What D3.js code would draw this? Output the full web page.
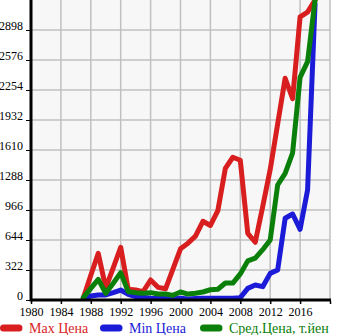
<!DOCTYPE html>
<html><head><meta charset="utf-8">
<script src="https://cdn.jsdelivr.net/npm/d3@7"></script>
<style>
html,body{margin:0;padding:0;background:#fff;}
svg{display:block;font-family:"Liberation Serif","Times New Roman",serif;}
</style></head>
<body><svg id="c" width="345" height="335"></svg>
<script>
const years = d3.range(1987, 2019);
const maxPrice = [20,265,500,130,345,566,115,107,89,215,136,120,335,550,610,685,845,800,960,1413,1532,1500,716,620,1003,1400,1890,2380,2160,3040,3090,3220];
const minPrice = [20,43,54,54,79,107,61,36,29,18,15,15,15,18,10,15,18,18,18,18,18,25,125,161,143,286,322,877,923,759,1181,3180];
const avgPrice = [25,125,222,72,180,293,89,79,72,79,64,64,50,86,64,72,86,110,115,182,182,280,420,450,540,644,1234,1360,1580,2390,2558,3220];
const yTicks = [0,322,644,966,1288,1610,1932,2254,2576,2898];
const xTicks = [1980,1984,1988,1992,1996,2000,2004,2008,2012,2016,2020];
const xLabels = [1980,1984,1988,1992,1996,2000,2004,2008,2012,2016];
const seriesNames = ["Max Цена","Min Цена","Сред.Цена, т.йен"];
const colors = ["#d81e1e","#1b1bd8","#0a800a"];

const svg = d3.select("#c");
const L = 31, R = 330, T = 0, B = 300;
const x = d3.scaleLinear().domain([1980, 2020]).range([L, R]);
const y = d3.scaleLinear().domain([0, 3220]).range([B, T]);

svg.append("rect").attr("x", L).attr("y", T).attr("width", R - L).attr("height", B - T).attr("fill", "#f7f7f7");

// grid
svg.append("g").selectAll("line").data(xTicks.slice(1)).join("line")
  .attr("x1", d => x(d)).attr("x2", d => x(d)).attr("y1", T).attr("y2", B)
  .attr("stroke", "#c0c0c0").attr("stroke-width", 1.5);
svg.append("g").selectAll("line").data(yTicks.slice(1)).join("line")
  .attr("x1", L).attr("x2", R).attr("y1", d => y(d)).attr("y2", d => y(d))
  .attr("stroke", "#c0c0c0").attr("stroke-width", 1.5);

// lines
svg.append("clipPath").attr("id", "pc").append("rect")
  .attr("x", L).attr("y", T).attr("width", R - L).attr("height", B - T);
const line = d3.line().x((d, i) => x(years[i])).y(d => y(d));
const data = [maxPrice, minPrice, avgPrice];
const lg = svg.append("g").attr("clip-path", "url(#pc)");
data.forEach((s, k) => {
  lg.append("path").datum(s).attr("d", line).attr("fill", "none")
    .attr("stroke", colors[k]).attr("stroke-width", 5)
    .attr("stroke-linejoin", "round").attr("stroke-linecap", "round");
});

// axes
const xAxis = svg.append("g").attr("transform", `translate(0,${B})`)
  .call(d3.axisBottom(x).tickValues(xTicks).tickSize(4).tickFormat(d => xLabels.includes(d) ? d : ""));
xAxis.select(".domain").attr("stroke", "#000").attr("stroke-width", 3).attr("d", `M${L},0H${R + 1}`);
xAxis.selectAll(".tick line").attr("stroke", "#000").attr("stroke-width", 1.5).attr("y1", 1);
xAxis.selectAll(".tick text").attr("font-size", 12).attr("font-family", "Liberation Serif, serif").attr("fill", "#000")
  .attr("y", 16).attr("dy", 0);

const yAxis = svg.append("g").attr("transform", `translate(${L},0)`)
  .call(d3.axisLeft(y).tickValues(yTicks).tickSize(5).tickFormat(d => d));
yAxis.select(".domain").attr("stroke", "#000").attr("stroke-width", 3).attr("d", `M0,${T}V${B + 1.5}`);
yAxis.selectAll(".tick line").attr("stroke", "#000").attr("stroke-width", 1);
yAxis.selectAll(".tick text").attr("font-size", 12).attr("font-family", "Liberation Serif, serif").attr("fill", "#000")
  .attr("x", -8).attr("y", -0.5).attr("dy", 0);

// legend
const legX = [0, 100, 200];
const leg = svg.append("g");
seriesNames.forEach((n, k) => {
  leg.append("line").attr("x1", legX[k] + 3.5).attr("x2", legX[k] + 19).attr("y1", 328).attr("y2", 328)
    .attr("stroke", colors[k]).attr("stroke-width", 7).attr("stroke-linecap", "round");
  leg.append("text").attr("x", legX[k] + 29).attr("y", 333).attr("font-size", 14).attr("fill", colors[k]).text(n);
});
</script></body></html>
